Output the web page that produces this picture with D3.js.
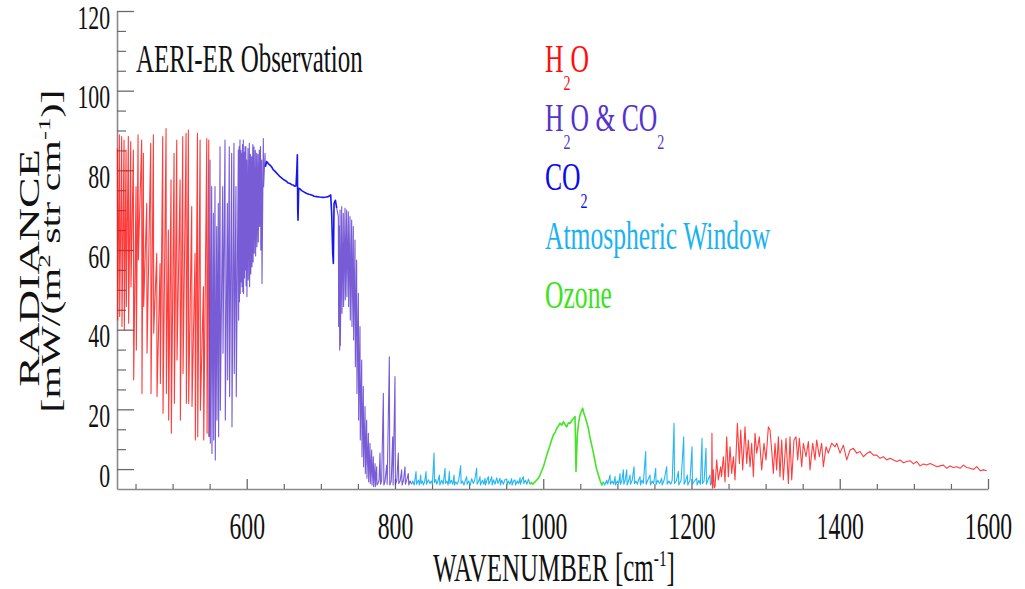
<!DOCTYPE html>
<html>
<head>
<meta charset="utf-8">
<script src="https://cdn.jsdelivr.net/npm/d3@7"></script>
<style>
  body { margin: 0; background: #fff; }
  svg { display: block; }
  svg text { font-family: "Liberation Serif", "DejaVu Serif", "Times New Roman", serif; }
</style>
</head>
<body>
<script>
// spectrum pieces: [wavenumber cm-1, radiance]
const h2oLeft = [
  [425.5,85.5],[425.9,42.4],[428.2,88.9],[428.6,43.3],[431.3,88.5],[431.7,40.8],[434.5,87.6],[434.9,39.9],
  [437.2,85.1],[437.6,45.8],[440.3,88.5],[440.7,41.6],[443.5,87.2],[443.9,50.8],[447.1,85.1],[447.5,27.4],
  [450.7,75.9],[451.1,34.9],[453.4,88.9],[453.8,57.5],[458.3,87.6],[458.7,24.0],[460.6,84.3],[461.0,45.8],
  [465.1,71.7],[465.5,34.1],[470.5,86.8],[470.9,24.0],[474.1,88.9],[474.5,39.1],[478.6,59.2],[479.0,23.2],
  [483.1,56.6],[483.5,26.5],[486.7,88.5],[487.1,19.0],[491.2,90.5],[491.6,24.0],[494.3,65.0],[494.7,17.3],
  [497.9,77.6],[498.3,14.0],[502.0,84.3],[502.4,21.5],[505.6,87.6],[506.0,32.4],[510.1,77.6],[510.5,17.3],
  [513.7,88.5],[514.1,29.0],[518.2,89.3],[518.6,21.5],[521.3,90.1],[521.7,21.5],[525.8,70.9],[526.2,20.7],
  [530.3,59.2],[530.7,12.3],[533.5,89.3],[533.9,13.1],[537.1,87.6],[537.5,19.8],[541.6,50.8],[542.0,12.3],
  [546.1,88.0],[546.5,14.0],[548.8,87.6],[549.2,13.1]
]
const mixLeft = [
  [550.5,82.6],[550.9,11.5],[552.7,75.9],[553.1,8.9],[555.0,69.2],[555.4,12.3],[557.2,75.9],[557.6,7.3],
  [559.5,65.9],[559.9,17.3],[561.7,71.7],[562.1,13.1],[564.0,85.9],[564.4,19.8],[567.6,75.9],[568.0,34.1],
  [570.7,87.6],[571.1,17.3],[573.9,71.7],[574.3,27.4],[576.5,85.9],[576.9,23.2],[579.7,84.3],[580.1,15.6],
  [582.8,86.8],[583.2,29.0],[585.5,75.9],[585.9,23.2],[588.7,85.1],[589.1,42.4],[589.8,86.0],[590.2,47.0],
  [590.9,87.6],[591.3,49.1],[592.1,85.0],[592.5,52.0],[593.2,84.3],[593.6,50.8],[594.3,86.5],[594.7,49.5],
  [595.4,87.6],[595.8,49.1],[596.5,84.5],[596.9,53.0],[597.7,85.9],[598.1,55.0],[598.8,86.0],[599.2,51.0],
  [599.9,82.6],[600.3,48.3],[601.7,85.5],[602.1,52.5],[603.5,86.8],[603.9,50.8],[605.1,84.0],[605.5,54.0],
  [606.7,83.4],[607.1,55.8],[608.2,86.5],[608.6,57.0],[609.8,85.9],[610.2,59.2],[611.6,85.0],[612.0,58.5],
  [613.4,84.3],[613.8,60.8],[615.2,84.0],[615.6,62.0],[617.0,85.1],[617.4,65.9],[618.6,86.0],[619.0,60.0],
  [620.2,82.6],[620.6,51.6],[622.4,88.0],[622.8,75.9],[624.7,84.3],[625.1,80.9]
]
const co2Band = [
  [626.9,82.2],[629.0,81.7],[631.4,81.3],[633.5,80.9],[635.9,80.1],[638.0,79.8],[640.4,79.3],[642.5,78.9],
  [644.9,78.4],[647.0,78.1],[649.4,77.7],[651.5,77.5],[653.9,77.2],[656.0,76.8],[658.4,76.7],[660.5,76.4],
  [662.9,76.3],[665.0,76.0],[666.5,76.1],[667.6,80.0],[668.3,83.9],[668.8,70.0],[669.2,67.5],[670.1,75.5],
  [672.0,75.3],[674.1,74.9],[677.0,74.6],[680.9,74.2],[684.0,74.0],[687.6,73.8],[691.0,73.5],[694.4,73.4],
  [698.0,73.3],[703.4,73.2],[707.0,73.3],[710.1,73.4],[713.3,73.8],[714.6,69.2],[715.3,64.0],[716.0,59.2],
  [716.9,56.6],[717.4,65.0],[717.8,71.7],[719.6,72.5],[721.4,70.5]
]
const mixRight = [
  [723.6,68.4],[724.0,40.8],[725.0,66.0],[725.4,34.9],[725.9,70.0],[726.3,36.0],[728.1,70.9],[728.5,44.1],
  [730.3,69.2],[730.7,45.8],[732.6,70.5],[733.0,47.5],[734.8,70.0],[735.2,48.3],[737.1,69.6],[737.5,45.8],
  [739.3,68.4],[739.7,42.4],[741.6,67.5],[742.0,40.8],[743.8,65.9],[744.2,37.4],[746.1,62.5],[746.5,30.7],
  [748.3,57.5],[748.7,24.0],[750.6,49.1],[751.0,17.3],[752.8,40.8],[753.2,12.3],[755.1,32.4],[755.5,8.1],
  [757.3,25.7],[757.7,5.6],[759.6,20.7],[760.0,3.9],[761.8,17.3],[762.2,2.7],[764.1,14.0],[764.5,1.8],
  [766.3,11.5],[766.7,1.4],[768.6,9.8],[769.0,1.0],[770.8,8.1],[771.2,0.6],[773.1,6.4],[773.5,0.6],
  [775.3,5.6],[775.7,1.0],[777.0,1.4],[778.5,2.2],[779.8,9.0],[780.5,1.2],[782.0,2.0],[784.3,24.0],
  [785.0,1.0],[786.5,1.8],[788.8,6.0],[789.5,1.2],[792.4,33.2],[793.0,1.0],[795.0,2.0],[796.9,13.1],
  [797.5,1.0],[800.0,28.2],[800.6,1.2],[802.5,2.2],[804.5,9.0],[805.1,1.4],[807.0,2.0],[809.0,4.8],
  [809.6,1.0],[811.5,2.2],[813.5,5.6],[814.1,1.2],[816.0,2.4],[818.0,3.9],[818.6,1.0],[820.3,2.0],[822.5,1.2]
]
const windowLeft = [
  [824.0,2.0],[826.0,1.0],[828.4,4.4],[829.0,1.2],[831.5,2.2],[833.0,1.0],[834.7,3.5],[835.3,1.4],
  [837.0,2.0],[838.3,1.0],[840.0,1.8],[841.9,4.4],[842.5,1.2],[845.0,2.3],[847.3,1.4],[849.0,2.0],
  [850.5,1.2],[852.7,9.0],[853.3,1.6],[855.0,2.4],[856.3,1.2],[858.0,2.0],[859.9,3.5],[860.5,1.0],
  [863.0,2.2],[865.0,1.2],[867.5,5.2],[868.1,1.4],[870.0,2.0],[871.7,1.0],[873.4,4.4],[874.0,1.4],
  [876.0,2.2],[878.0,1.2],[879.7,3.5],[880.3,1.0],[882.0,1.8],[884.0,1.2],[886.0,2.2],[888.6,5.9],
  [889.2,1.4],[891.0,2.0],[893.0,1.0],[895.0,2.3],[896.7,3.1],[897.3,1.2],[899.5,2.0],[901.5,1.0],
  [903.5,2.6],[905.5,1.4],[907.5,2.2],[910.2,5.2],[910.8,1.2],[913.0,2.0],[914.7,3.1],[915.3,1.0],
  [918.0,2.2],[920.0,1.2],[921.5,2.7],[922.1,1.0],[924.0,2.2],[926.0,3.1],[926.6,1.2],[928.5,2.0],
  [930.5,3.1],[931.1,1.0],[933.0,2.3],[935.0,1.2],[937.2,2.8],[939.0,1.4],[941.7,2.7],[942.3,1.0],
  [944.0,2.2],[946.2,1.2],[948.5,2.4],[950.7,2.5],[951.3,1.0],[953.0,2.0],[955.0,1.2],[957.4,2.6],
  [958.0,1.0],[960.0,2.0],[962.0,2.3],[962.6,1.0],[965.0,2.0],[967.0,1.4],[968.7,2.8],[969.3,1.2],
  [971.0,2.2],[973.2,3.1],[973.8,1.4],[976.0,2.2],[978.0,1.2],[980.0,2.5],[982.2,1.2]
]
const ozoneBand = [
  [984.0,1.6],[986.0,1.2],[988.9,1.8],[991.0,2.2],[993.0,2.6],[995.7,3.5],[997.5,4.4],[1000.2,5.6],
  [1002.5,7.0],[1004.7,8.5],[1007.0,9.8],[1009.2,11.0],[1011.5,12.4],[1013.7,13.6],[1016.0,14.2],[1018.2,15.2],
  [1020.5,15.8],[1022.7,16.5],[1025.0,16.0],[1027.2,16.9],[1029.5,16.2],[1031.6,15.6],[1034.0,16.6],[1036.1,16.5],
  [1038.5,17.2],[1040.6,17.7],[1042.9,18.2],[1043.6,11.0],[1044.2,4.4],[1045.1,9.0],[1046.0,13.6],[1048.0,17.0],
  [1049.6,18.6],[1051.5,19.5],[1053.2,20.3],[1054.8,19.0],[1056.4,18.2],[1058.6,16.8],[1060.9,15.2],[1063.0,13.0],
  [1065.4,11.0],[1067.7,9.0],[1069.9,6.9],[1072.0,5.0],[1074.4,3.5],[1076.6,2.2],[1078.9,1.0],[1081.1,1.8]
]
const windowRight = [
  [1083.0,1.0],[1085.6,2.2],[1087.0,1.2],[1090.1,3.5],[1090.7,1.2],[1093.0,2.0],[1095.0,1.2],[1096.9,3.1],
  [1097.5,1.0],[1100.0,2.0],[1101.8,1.4],[1103.6,3.9],[1104.2,1.2],[1106.0,2.0],[1108.1,4.8],[1108.7,1.2],
  [1110.5,2.2],[1112.6,4.8],[1113.2,1.0],[1115.0,2.0],[1117.1,3.5],[1117.7,1.2],[1120.0,2.2],[1122.5,5.6],
  [1123.1,1.4],[1125.0,2.0],[1127.0,1.2],[1128.5,2.2],[1130.6,3.1],[1131.2,1.0],[1133.0,2.2],[1135.0,1.4],
  [1138.2,9.4],[1138.8,1.2],[1141.0,2.2],[1144.1,3.5],[1144.7,1.0],[1147.0,2.0],[1149.0,1.4],[1151.7,5.2],
  [1152.3,1.2],[1154.5,2.2],[1157.0,1.4],[1159.8,2.7],[1160.4,1.0],[1163.0,2.2],[1166.6,5.6],[1167.2,1.2],
  [1169.5,2.0],[1172.0,1.2],[1174.0,2.2],[1176.5,16.5],[1177.1,1.4],[1179.5,2.0],[1182.3,4.4],[1182.9,1.0],
  [1186.0,2.2],[1189.5,13.1],[1190.1,1.2],[1192.0,2.0],[1194.4,3.5],[1195.0,1.0],[1198.0,2.2],[1200.7,10.6],
  [1201.3,1.2],[1204.0,2.0],[1207.0,2.7],[1207.6,1.0],[1210.0,2.2],[1212.0,1.2],[1214.2,12.7],[1214.8,1.4],
  [1217.0,2.0],[1219.6,10.2],[1220.2,1.2],[1222.0,2.2],[1225.0,3.5],[1225.6,1.0],[1227.2,1.4]
]
const h2oRight = [
  [1227.6,14.0],[1228.2,0.2],[1229.5,4.8],[1230.5,0.3],[1231.7,0.6],[1234.0,7.3],[1236.2,2.3],[1239.4,5.6],
  [1240.5,3.1],[1243.0,8.1],[1245.2,1.8],[1247.5,13.1],[1249.7,3.1],[1252.0,10.6],[1254.2,3.9],[1256.5,8.1],
  [1258.7,2.3],[1261.9,16.5],[1264.6,6.4],[1266.4,14.8],[1269.1,4.8],[1272.2,15.6],[1274.5,6.4],[1276.7,12.3],
  [1279.0,5.6],[1281.2,11.5],[1283.5,3.1],[1285.7,14.0],[1288.0,9.0],[1291.5,13.1],[1294.7,4.8],[1297.8,11.5],
  [1300.5,7.3],[1303.7,15.6],[1305.9,14.8],[1308.2,9.8],[1310.4,3.9],[1312.7,11.5],[1314.9,4.8],[1317.2,13.1],
  [1319.4,3.1],[1321.7,12.3],[1323.9,2.3],[1327.5,12.7],[1330.7,1.4],[1332.9,13.1],[1335.2,2.3],[1338.3,12.3],
  [1341.0,13.1],[1343.3,7.3],[1345.5,12.7],[1348.7,5.6],[1350.9,11.5],[1354.5,8.1],[1357.7,11.9],[1359.9,4.8],
  [1363.5,11.5],[1366.6,7.3],[1368.9,12.3],[1372.5,8.1],[1375.6,11.5],[1377.9,5.6],[1381.5,10.6],[1384.6,9.0],
  [1389.1,11.5],[1393.6,10.6],[1395.9,11.5],[1400.4,9.0],[1404.9,11.0],[1409.4,7.3],[1413.9,9.8],[1418.4,10.2],
  [1422.9,9.0],[1427.4,9.4],[1431.9,8.1],[1436.4,8.9],[1440.9,9.4],[1445.4,8.5],[1449.9,8.5],[1454.4,7.7],
  [1458.9,8.1],[1463.4,7.3],[1467.9,7.7],[1472.4,7.3],[1476.9,6.9],[1481.4,7.3],[1485.9,6.6],[1490.4,6.9],
  [1494.9,7.1],[1499.4,6.3],[1503.9,6.9],[1508.4,5.8],[1512.9,6.3],[1517.4,6.0],[1521.9,6.4],[1526.4,6.0],
  [1530.9,5.6],[1535.4,5.8],[1539.9,6.0],[1544.4,5.2],[1548.9,5.8],[1553.4,5.4],[1557.9,5.6],[1562.4,5.2],
  [1566.9,6.0],[1571.4,5.4],[1575.9,5.2],[1580.4,4.9],[1584.9,5.6],[1589.4,4.6],[1593.9,4.8],[1598.2,4.6]
]

const xMajorTicks = [600, 800, 1000, 1200, 1400, 1600]
const xMinorTicks = [450, 500, 550, 650, 700, 750, 850, 900, 950, 1050, 1100, 1150, 1250, 1300, 1350, 1450, 1500, 1550]
const yMajorTicks = [5, 20, 40, 60, 80, 100, 120]
const yTickLabels = ["0", "20", "40", "60", "80", "100", "120"]
const yMinorTicks = [10, 15, 25, 30, 35, 45, 50, 55, 65, 70, 75, 85, 90, 95, 105, 110, 115]

const legendLabels = ["H_2O", "H_2O & CO_2", "CO_2", "Atmospheric Window", "Ozone"]
const legendKeys = ["h2o", "mix", "co2", "window", "ozone"]

const colors = {
    h2o: "#ff0d0d",
    mix: "#5533cc",
    co2: "#0b0bea",
    window: "#19b2f2",
    ozone: "#3ae31a"
}

const segments = [
    ["h2o", h2oLeft], ["mix", mixLeft], ["co2", co2Band], ["mix", mixRight],
    ["window", windowLeft], ["ozone", ozoneBand], ["window", windowRight], ["h2o", h2oRight]
]

const w = 1025, h = 589
const sx = 0.64   // the original figure is squashed sideways
const font = "Liberation Serif, DejaVu Serif, serif"

let svg = d3.select("body").append("svg")
    .attr("width", w)
    .attr("height", h)

let x = d3.scaleLinear([425, 1600], [117, 988])
let y = d3.scaleLinear([0, 120], [489, 11])

// horizontal text, squeezed like the original
function hText(x0, y0, size, anchor) {
    return svg.append("g")
        .attr("transform", `translate(${x0},${y0}) scale(${sx},1)`)
        .append("text")
        .style("font-family", font)
        .attr("font-size", size)
        .attr("text-anchor", anchor || "start")
}

// axes
let gx = svg.append("g").attr("transform", `translate(0,${y(0)})`)
    .call(d3.axisBottom(x).tickValues(xMajorTicks).tickFormat(d3.format("d"))
        .tickSizeInner(-10).tickSizeOuter(0).tickPadding(24))
    .attr("font-size", 37)
gx.select(".domain").attr("stroke", "#8a8a8a").attr("stroke-width", 1.6)
gx.selectAll(".tick line").attr("stroke", "#6a6a6a").attr("stroke-width", 1.3)
gx.selectAll(".tick text").attr("fill", "#111")
    .style("font-family", font)
    .attr("transform", `scale(${sx},1)`)

svg.append("g").attr("transform", `translate(0,${y(0)})`)
    .call(d3.axisBottom(x).tickValues(xMinorTicks).tickSizeInner(-5).tickSizeOuter(0).tickFormat(""))
    .call(g => g.select(".domain").remove())
    .selectAll(".tick line").attr("stroke", "#6a6a6a").attr("stroke-width", 1.2)

let gy = svg.append("g").attr("transform", `translate(${x(425)},0)`)
    .call(d3.axisLeft(y).tickValues(yMajorTicks).tickFormat((d, i) => yTickLabels[i])
        .tickSizeInner(-17).tickSizeOuter(0).tickPadding(7))
    .attr("font-size", 34)
gy.select(".domain").attr("stroke", "#8a8a8a").attr("stroke-width", 1.6)
gy.selectAll(".tick line").attr("stroke", "#6a6a6a").attr("stroke-width", 1.3)
gy.selectAll(".tick text").attr("fill", "#111")
    .style("font-family", font)
    .attr("x", -7 / sx)
    .attr("dy", "0.5em")
    .attr("transform", `scale(${sx},1)`)

svg.append("g").attr("transform", `translate(${x(425)},0)`)
    .call(d3.axisLeft(y).tickValues(yMinorTicks).tickSizeInner(-9).tickSizeOuter(0).tickFormat(""))
    .call(g => g.select(".domain").remove())
    .selectAll(".tick line").attr("stroke", "#6a6a6a").attr("stroke-width", 1.2)

// spectrum, one path per colour piece, each joined to the previous piece
let line = d3.line().x(d => x(d[0])).y(d => y(d[1]))
let prev = null
segments.forEach(([key, pts]) => {
    let data = prev ? [prev].concat(pts) : pts
    svg.append("path")
        .datum(data)
        .attr("d", line)
        .attr("fill", "none")
        .attr("stroke", colors[key])
        .attr("stroke-width", key === "co2" || key === "ozone" ? 1.6 : 1.1)
        .attr("stroke-opacity", key === "h2o" || key === "mix" ? 0.8 : 0.95)
        .attr("stroke-linejoin", "round")
    prev = pts[pts.length - 1]
})

// title inside plot
hText(136, 72, 39).attr("fill", "#111").text("AERI-ER Observation")

// coloured legend text with subscripts
legendLabels.forEach((lab, i) => {
    let t = hText(545, 72 + i * 59, 40).attr("fill", colors[legendKeys[i]])
    let down = 0
    lab.split(/(_2)/).filter(s => s).forEach(part => {
        if (part === "_2") {
            t.append("tspan").attr("font-size", 22).attr("dy", 18 - down).text("2")
            down = 18
        } else {
            t.append("tspan").attr("dy", -down).text(part)
            down = 0
        }
    })
})

// x axis title
let xt = hText(554, 581, 39, "middle").attr("fill", "#111")
xt.append("tspan").text("WAVENUMBER [cm")
xt.append("tspan").attr("font-size", 24).attr("dy", -15).text("-1")
xt.append("tspan").attr("dy", 15).text("]")

// y axis title, two rotated lines
svg.append("text")
    .attr("transform", `translate(39,268) rotate(-90) scale(1,${sx})`)
    .style("font-family", font)
    .attr("text-anchor", "middle")
    .attr("font-size", 46)
    .attr("fill", "#111")
    .text("RADIANCE")

let yt = svg.append("text")
    .attr("transform", `translate(60,251) rotate(-90) scale(1,${sx})`)
    .style("font-family", font)
    .attr("text-anchor", "middle")
    .attr("font-size", 42)
    .attr("fill", "#111")
yt.append("tspan").text("[mW/(m")
yt.append("tspan").attr("font-size", 27).attr("dy", -16).text("2")
yt.append("tspan").attr("dy", 16).text(" str cm")
yt.append("tspan").attr("font-size", 27).attr("dy", -16).text("-1")
yt.append("tspan").attr("dy", 16).text(")]")
</script>
</body>
</html>
